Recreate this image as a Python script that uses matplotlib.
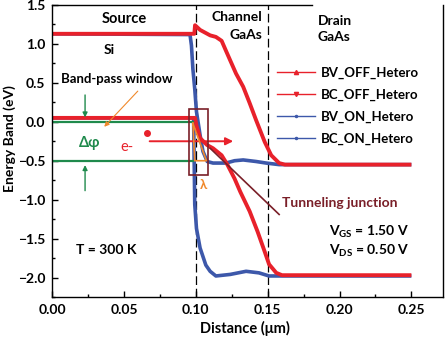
import numpy as np
import matplotlib
matplotlib.use('Agg')
import matplotlib.pyplot as plt
from matplotlib.lines import Line2D
from matplotlib.patches import Rectangle

plt.rcParams['font.family'] = ['Lato', 'DejaVu Sans']
plt.rcParams['font.weight'] = 'bold'
plt.rcParams['axes.labelweight'] = 'bold'
plt.rcParams['mathtext.fontset'] = 'custom'
plt.rcParams['mathtext.bf'] = 'Lato:bold'
plt.rcParams['mathtext.rm'] = 'Lato:bold'
plt.rcParams['xtick.direction'] = 'in'
plt.rcParams['ytick.direction'] = 'in'

# band edges along the device (um, eV)
bc_off_x = [0.0, 0.099, 0.0995, 0.103, 0.110, 0.114, 0.118, 0.1213, 0.128, 0.133, 0.1375, 0.142,
            0.148, 0.1525, 0.158, 0.162, 0.25]
bc_off_y = [1.13, 1.13, 1.24, 1.18, 1.11, 1.09, 1.04, 0.90, 0.62, 0.45, 0.24, 0.02,
            -0.26, -0.43, -0.53, -0.55, -0.55]

bv_off_x = [0.0, 0.0995, 0.1005, 0.103, 0.108, 0.112, 0.118, 0.122, 0.127, 0.131, 0.1375, 0.143,
            0.148, 0.151, 0.156, 0.160, 0.25]
bv_off_y = [0.05, 0.05, -0.05, -0.21, -0.30, -0.34, -0.43, -0.55, -0.73, -0.90, -1.15, -1.41,
            -1.67, -1.83, -1.94, -1.97, -1.97]

bc_on_x = [0.0, 0.096, 0.097, 0.098, 0.0993, 0.1005, 0.103, 0.105, 0.108, 0.112, 0.121, 0.127,
           0.133, 0.142, 0.149, 0.158, 0.25]
bc_on_y = [1.13, 1.12, 0.98, 0.68, 0.42, 0.13, -0.17, -0.38, -0.51, -0.53, -0.53, -0.50,
           -0.49, -0.51, -0.53, -0.55, -0.55]

bv_on_x = [0.0, 0.0985, 0.0993, 0.1005, 0.103, 0.107, 0.110, 0.114, 0.119, 0.124, 0.135, 0.144,
           0.151, 0.16, 0.25]
bv_on_y = [0.05, 0.05, -1.06, -1.37, -1.62, -1.84, -1.92, -1.98, -1.97, -1.96, -1.92, -1.94,
           -1.98, -1.98, -1.98]

labels = ['BV_OFF_Hetero', 'BC_OFF_Hetero', 'BV_ON_Hetero', 'BC_ON_Hetero']

red = '#e8212b'
blue = '#3d58aa'
green = '#1f8a4c'
maroon = '#7a1f28'
orange = '#f0892c'

fig = plt.figure(figsize=(4.46, 3.37), dpi=100, facecolor='white')
ax = fig.add_axes([0.1166, 0.1187, 0.8767, 0.8665])

ax.plot(bc_on_x, bc_on_y, color=blue, lw=2.6, solid_capstyle='butt')
ax.plot(bv_on_x, bv_on_y, color=blue, lw=2.6, solid_capstyle='butt')
ax.plot(bc_off_x, bc_off_y, color=red, lw=2.8, solid_capstyle='butt')
ax.plot(bv_off_x, bv_off_y, color=red, lw=2.8, solid_capstyle='butt')

# region boundaries
for xb in (0.10, 0.15):
    ax.axvline(xb, color='k', lw=0.9, ls=(0, (7, 3)), zorder=1)

# band-pass window
ax.plot([0.0, 0.098], [0.0, 0.0], color=green, lw=1.6)
ax.plot([0.0, 0.098], [-0.5, -0.5], color=green, lw=1.6)
ax.annotate('', xy=(0.023, 0.02), xytext=(0.023, 0.38),
            arrowprops=dict(arrowstyle='-|>', color=green, lw=1.0, mutation_scale=7))
ax.annotate('', xy=(0.023, -0.52), xytext=(0.023, -0.92),
            arrowprops=dict(arrowstyle='-|>', color=green, lw=1.0, mutation_scale=7))
ax.text(0.026, -0.27, 'Δφ', color=green, fontsize=10.5, ha='center', va='center')
ax.text(0.006, 0.55, 'Band-pass window', fontsize=9.5, ha='left', va='center')
ax.annotate('', xy=(0.035, -0.09), xytext=(0.061, 0.42),
            arrowprops=dict(arrowstyle='-|>', color=orange, lw=0.8, mutation_scale=7))

# electron path
ax.plot([0.066], [-0.14], 'o', color=red, ms=4)
ax.annotate('', xy=(0.128, -0.25), xytext=(0.066, -0.25),
            arrowprops=dict(arrowstyle='-|>', color=red, lw=1.4, mutation_scale=11))
ax.text(0.052, -0.33, 'e-', color=red, fontsize=10.5, ha='center', va='center',
        fontweight='normal')

# tunneling junction
ax.add_patch(Rectangle((0.095, -0.68), 0.0136, 0.85, fill=False, ec=maroon, lw=1.2, zorder=5))
ax.plot([0.098, 0.0993, 0.1074, 0.098], [-0.02, -0.5, -0.5, -0.02], color=orange, lw=1.2, zorder=6)
ax.text(0.1056, -0.81, 'λ', color=orange, fontsize=9.5, ha='center', va='center')
ax.plot([0.110, 0.158], [-0.34, -1.19], color=maroon, lw=1.2, zorder=6)
ax.text(0.160, -1.04, 'Tunneling junction', color=maroon, fontsize=10, ha='left', va='center')

ax.text(0.193, -1.41, '$\\mathbf{V_{GS}}$ = 1.50 V', fontsize=10, ha='left', va='center')
ax.text(0.193, -1.66, '$\\mathbf{V_{DS}}$ = 0.50 V', fontsize=10, ha='left', va='center')
ax.text(0.038, -1.65, 'T = 300 K', fontsize=10, ha='center', va='center')

ax.text(0.050, 1.32, 'Source', fontsize=10.5, ha='center', va='center')
ax.text(0.040, 0.92, 'Si', fontsize=10, ha='center', va='center')
ax.text(0.146, 1.35, 'Channel', fontsize=10, ha='right', va='center')
ax.text(0.146, 1.12, 'GaAs', fontsize=10, ha='right', va='center')
ax.text(0.185, 1.30, 'Drain', fontsize=10, ha='left', va='center')
ax.text(0.185, 1.09, 'GaAs', fontsize=10, ha='left', va='center')

handles = [Line2D([], [], color=red, lw=1.0, marker='^', ms=3),
           Line2D([], [], color=red, lw=1.0, marker='v', ms=3),
           Line2D([], [], color=blue, lw=1.0, marker='.', ms=3),
           Line2D([], [], color=blue, lw=1.0, marker='.', ms=3)]
ax.legend(handles, labels, loc='upper left', bbox_to_anchor=(0.575, 0.79), frameon=False,
          fontsize=9.5, handlelength=2.9, handletextpad=0.45, labelspacing=0.75,
          borderaxespad=0, borderpad=0)

ax.set_xlim(0, 0.272)
ax.set_ylim(-2.25, 1.5)
ax.set_xticks([0.0, 0.05, 0.10, 0.15, 0.20, 0.25])
ax.set_xticks(np.arange(0.025, 0.27, 0.05), minor=True)
ax.set_yticks([-2.0, -1.5, -1.0, -0.5, 0.0, 0.5, 1.0, 1.5])
ax.set_yticks(np.arange(-2.25, 1.5, 0.5), minor=True)
ax.set_xticklabels(['0.00', '0.05', '0.10', '0.15', '0.20', '0.25'])
ax.set_yticklabels(['−2.0', '−1.5', '−1.0', '−0.5', '0.0', '0.5', '1.0', '1.5'])
ax.tick_params(which='major', length=4, width=1, labelsize=10, pad=5)
ax.tick_params(which='minor', length=2.5, width=1)
ax.spines['top'].set_bounds(0, 0.181)
for s in ax.spines.values():
    s.set_linewidth(1.0)

ax.set_xlabel('Distance (μm)', fontsize=10.5)
ax.set_ylabel('Energy Band (eV)', fontsize=10)
ax.xaxis.set_label_coords(0.494, -0.082)
ax.yaxis.set_label_coords(-0.093, 0.541)

plt.savefig('out.png', dpi=100, facecolor='white')
